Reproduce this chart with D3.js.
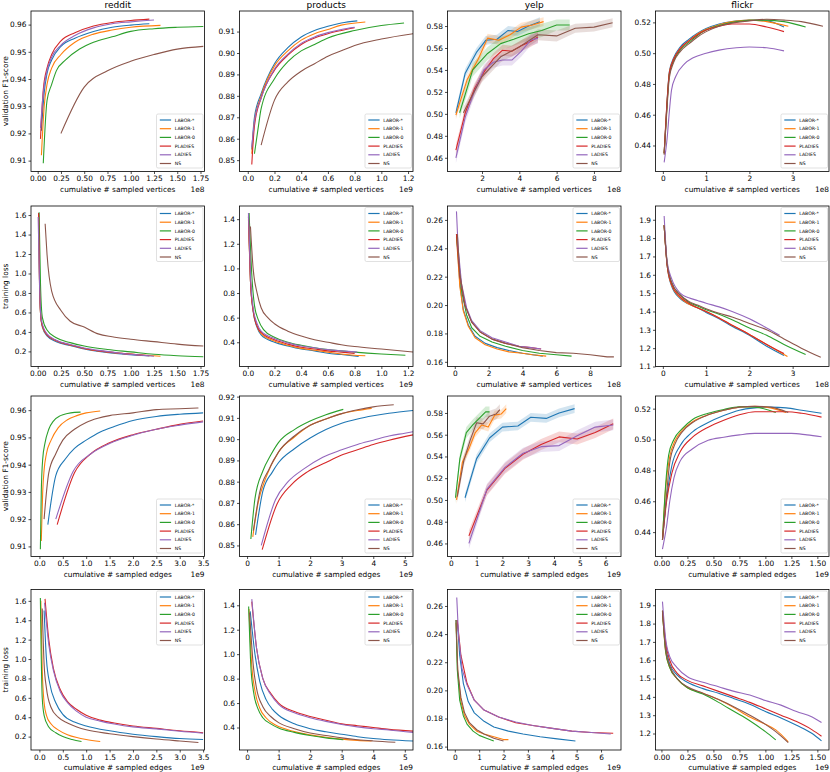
<!DOCTYPE html>
<html>
<head>
<meta charset="utf-8">
<script src="https://cdn.jsdelivr.net/npm/d3@7"></script>
<style>
body { margin: 0; background: #fff; }
text { font-family: "DejaVu Sans", sans-serif; fill: #000; }
</style>
</head>
<body>
<svg id="chart" width="830" height="772"></svg>
<script>
// series order in every panel
const methods = ["LABOR-*", "LABOR-1", "LABOR-0", "PLADIES", "LADIES", "NS"];
const colors = ["#1f77b4", "#ff7f0e", "#2ca02c", "#d62728", "#9467bd", "#8c564b"];
const datasets = ["reddit", "products", "yelp", "flickr"];
const rowYLabels = ["validation F1-score", "training loss", "validation F1-score", "training loss"];
const rowXLabels = ["cumulative # sampled vertices", "cumulative # sampled vertices",
                    "cumulative # sampled edges", "cumulative # sampled edges"];

// axis setup per panel (row-major): domain, tick step, decimals, exponent label
const xDomains = [
  [-0.072, 1.793], [-0.062, 1.237], [0.15, 9.45], [-0.17, 3.84],
  [-0.072, 1.793], [-0.062, 1.237], [-0.43, 9.82], [-0.17, 3.84],
  [-0.18, 3.53], [-0.24, 5.26], [-0.13, 6.6], [-0.057, 1.612],
  [-0.18, 3.53], [-0.24, 5.26], [-0.3, 6.82], [-0.057, 1.612]
];
const yDomains = [
  [0.906, 0.965], [0.8447, 0.9196], [0.4475, 0.5937], [0.4231, 0.5274],
  [0.045, 1.693], [0.203, 1.507], [0.1567, 0.2698], [1.10, 1.975],
  [0.9063, 0.9652], [0.8448, 0.9203], [0.448, 0.5956], [0.4242, 0.5282],
  [0.062, 1.717], [0.216, 1.529], [0.1576, 0.2717], [1.11, 1.986]
];
const xTickSteps = [0.25, 0.2, 2, 1, 0.25, 0.2, 2, 1, 0.5, 1, 1, 0.25, 0.5, 1, 1, 0.25];
const xTickDigits = [2, 1, 0, 0, 2, 1, 0, 0, 1, 0, 0, 2, 1, 0, 0, 2];
const yTickSteps = [0.01, 0.01, 0.02, 0.02, 0.2, 0.2, 0.02, 0.1, 0.01, 0.01, 0.02, 0.02, 0.2, 0.2, 0.02, 0.1];
const yTickDigits = [2, 2, 2, 2, 1, 1, 2, 1, 2, 2, 2, 2, 1, 1, 2, 1];
const xExponents = ["1e8", "1e9", "1e8", "1e8", "1e8", "1e9", "1e8", "1e8",
                    "1e9", "1e9", "1e9", "1e9", "1e9", "1e9", "1e9", "1e9"];

// ---- row 1: validation F1 vs sampled vertices ----
const redditF1Vert = [
  [[0.04,0.921],[0.07,0.935],[0.1,0.942],[0.15,0.947],[0.25,0.952],[0.4,0.955],[0.6,0.9575],[0.8,0.959],[1.0,0.9598],[1.2,0.9603]],
  [[0.04,0.912],[0.07,0.930],[0.1,0.938],[0.15,0.944],[0.25,0.949],[0.4,0.9535],[0.6,0.9565],[0.8,0.958],[1.0,0.959],[1.32,0.9597]],
  [[0.06,0.909],[0.1,0.932],[0.15,0.938],[0.2,0.943],[0.3,0.947],[0.45,0.951],[0.6,0.9535],[0.8,0.9555],[1.0,0.9575],[1.25,0.9585],[1.5,0.959],[1.78,0.9593]],
  [[0.03,0.918],[0.06,0.936],[0.1,0.944],[0.15,0.949],[0.25,0.954],[0.4,0.957],[0.6,0.9595],[0.8,0.9608],[1.0,0.9615],[1.2,0.962]],
  [[0.03,0.922],[0.06,0.935],[0.1,0.943],[0.15,0.948],[0.25,0.9525],[0.4,0.956],[0.6,0.9588],[0.8,0.9603],[1.0,0.961],[1.25,0.9617]],
  [[0.25,0.920],[0.5,0.937],[0.75,0.943],[1.0,0.9465],[1.25,0.949],[1.5,0.951],[1.78,0.952]]
];
const productsF1Vert = [
  [[0.03,0.855],[0.05,0.870],[0.1,0.881],[0.2,0.895],[0.3,0.9025],[0.4,0.9075],[0.5,0.9105],[0.6,0.9125],[0.7,0.914],[0.82,0.915]],
  [[0.03,0.853],[0.05,0.868],[0.1,0.880],[0.2,0.894],[0.3,0.901],[0.4,0.906],[0.5,0.909],[0.6,0.911],[0.7,0.913],[0.88,0.9145]],
  [[0.05,0.853],[0.08,0.866],[0.1,0.874],[0.2,0.888],[0.3,0.896],[0.4,0.901],[0.5,0.904],[0.6,0.907],[0.8,0.9105],[1.0,0.9128],[1.17,0.914]],
  [[0.03,0.848],[0.05,0.866],[0.1,0.879],[0.2,0.892],[0.3,0.899],[0.4,0.904],[0.5,0.907],[0.6,0.909],[0.7,0.9105],[0.8,0.9118]],
  [[0.03,0.856],[0.05,0.868],[0.1,0.879],[0.2,0.8925],[0.3,0.8995],[0.4,0.9045],[0.5,0.9075],[0.6,0.9095],[0.7,0.911],[0.8,0.912]],
  [[0.1,0.857],[0.2,0.878],[0.3,0.8865],[0.4,0.8915],[0.5,0.895],[0.6,0.8985],[0.7,0.901],[0.8,0.9035],[1.0,0.9065],[1.24,0.909]]
];
const yelpF1Vert = [
  [[0.6,0.501,0.004],[1.1,0.537,0.004],[1.7,0.556,0.004],[2.2,0.567,0.004],[2.8,0.568,0.004],[3.4,0.576,0.004],[3.9,0.575,0.004],[4.5,0.580,0.004],[5.1,0.584,0.004]],
  [[0.6,0.499,0.004],[1.2,0.531,0.004],[1.8,0.550,0.004],[2.3,0.569,0.004],[2.9,0.567,0.004],[3.5,0.572,0.004],[4.1,0.579,0.004],[4.7,0.581,0.004],[5.3,0.584,0.004]],
  [[0.8,0.501,0.005],[1.5,0.540,0.006],[2.3,0.555,0.006],[3.0,0.564,0.006],[3.7,0.568,0.006],[4.5,0.573,0.006],[5.2,0.576,0.006],[6.0,0.581,0.005],[6.7,0.581,0.005]],
  [[0.6,0.467,0.005],[1.1,0.501,0.005],[1.6,0.523,0.005],[2.1,0.538,0.005],[2.6,0.550,0.005],[3.1,0.558,0.005],[3.6,0.557,0.005],[4.1,0.562,0.005],[4.6,0.566,0.005],[5.0,0.570,0.005]],
  [[0.6,0.460,0.005],[1.1,0.497,0.005],[1.6,0.521,0.005],[2.1,0.540,0.005],[2.6,0.547,0.005],[3.1,0.549,0.005],[3.6,0.549,0.005],[4.1,0.557,0.005],[4.6,0.567,0.005],[5.0,0.569,0.005]],
  [[1.0,0.501,0.005],[2.0,0.534,0.005],[3.0,0.552,0.005],[4.0,0.561,0.005],[5.0,0.572,0.005],[6.0,0.571,0.005],[7.0,0.578,0.004],[8.0,0.579,0.004],[9.0,0.583,0.004]]
];
const flickrF1Vert = [
  [[0.03,0.435],[0.1,0.470],[0.15,0.488],[0.25,0.497],[0.4,0.504],[0.6,0.509],[0.8,0.513],[1.0,0.516],[1.3,0.519],[1.6,0.5205],[2.0,0.5215],[2.4,0.521],[2.8,0.517]],
  [[0.03,0.435],[0.1,0.469],[0.15,0.487],[0.25,0.496],[0.4,0.503],[0.6,0.508],[0.8,0.5125],[1.0,0.5155],[1.3,0.5185],[1.6,0.5205],[2.0,0.5215],[2.4,0.5205],[2.9,0.5175]],
  [[0.03,0.435],[0.1,0.468],[0.15,0.486],[0.25,0.495],[0.4,0.502],[0.6,0.507],[0.8,0.5115],[1.0,0.515],[1.3,0.518],[1.6,0.52],[2.0,0.5213],[2.4,0.5215],[2.8,0.5205],[3.3,0.517]],
  [[0.03,0.435],[0.1,0.470],[0.15,0.487],[0.25,0.496],[0.4,0.503],[0.6,0.508],[0.8,0.512],[1.0,0.515],[1.3,0.5175],[1.6,0.519],[2.0,0.519],[2.4,0.517],[2.8,0.514]],
  [[0.03,0.429],[0.1,0.445],[0.15,0.462],[0.2,0.476],[0.3,0.485],[0.5,0.493],[0.7,0.497],[1.0,0.500],[1.3,0.502],[1.7,0.5035],[2.0,0.504],[2.4,0.5035],[2.8,0.5015]],
  [[0.03,0.434],[0.1,0.466],[0.15,0.484],[0.25,0.494],[0.4,0.501],[0.6,0.506],[0.8,0.5105],[1.0,0.514],[1.3,0.5175],[1.6,0.5195],[2.0,0.521],[2.4,0.522],[2.8,0.5215],[3.2,0.5205],[3.7,0.5175]]
];

// ---- row 2: training loss vs sampled vertices ----
const redditLossVert = [
  [[0.01,1.62],[0.02,0.9],[0.03,0.6],[0.05,0.45],[0.1,0.36],[0.2,0.30],[0.35,0.26],[0.5,0.225],[0.7,0.195],[0.9,0.175],[1.2,0.155]],
  [[0.01,1.6],[0.02,0.9],[0.03,0.6],[0.05,0.46],[0.1,0.37],[0.2,0.31],[0.35,0.265],[0.5,0.23],[0.7,0.2],[0.9,0.18],[1.1,0.165],[1.32,0.15]],
  [[0.015,1.63],[0.03,0.9],[0.05,0.55],[0.1,0.42],[0.2,0.34],[0.35,0.29],[0.5,0.255],[0.75,0.22],[1.0,0.195],[1.25,0.17],[1.5,0.155],[1.78,0.145]],
  [[0.01,1.62],[0.02,0.85],[0.04,0.5],[0.1,0.37],[0.2,0.31],[0.35,0.265],[0.5,0.23],[0.7,0.2],[0.9,0.18],[1.2,0.155]],
  [[0.005,1.58],[0.02,0.88],[0.04,0.52],[0.1,0.38],[0.2,0.315],[0.35,0.27],[0.5,0.235],[0.7,0.205],[0.9,0.18],[1.25,0.15]],
  [[0.08,1.51],[0.1,1.2],[0.15,0.82],[0.25,0.62],[0.35,0.51],[0.5,0.45],[0.65,0.38],[0.8,0.35],[1.0,0.325],[1.25,0.30],[1.5,0.275],[1.78,0.255]]
];
const productsLossVert = [
  [[0.005,1.42],[0.02,0.9],[0.04,0.65],[0.07,0.52],[0.1,0.46],[0.2,0.40],[0.3,0.37],[0.4,0.345],[0.5,0.33],[0.6,0.31],[0.7,0.30],[0.83,0.285]],
  [[0.005,1.4],[0.02,0.9],[0.04,0.66],[0.07,0.53],[0.1,0.47],[0.2,0.41],[0.3,0.375],[0.4,0.35],[0.5,0.335],[0.6,0.32],[0.7,0.305],[0.88,0.29]],
  [[0.01,1.45],[0.03,0.95],[0.05,0.7],[0.08,0.58],[0.12,0.5],[0.2,0.44],[0.3,0.4],[0.4,0.375],[0.5,0.355],[0.6,0.34],[0.8,0.32],[1.0,0.305],[1.18,0.295]],
  [[0.005,1.43],[0.02,0.9],[0.04,0.66],[0.07,0.53],[0.1,0.48],[0.2,0.42],[0.3,0.385],[0.4,0.36],[0.5,0.345],[0.6,0.33],[0.7,0.32],[0.8,0.31]],
  [[0.005,1.45],[0.02,0.95],[0.04,0.68],[0.07,0.55],[0.1,0.49],[0.2,0.43],[0.3,0.395],[0.4,0.37],[0.5,0.355],[0.6,0.34],[0.7,0.33],[0.82,0.32]],
  [[0.02,1.34],[0.04,1.0],[0.07,0.8],[0.1,0.68],[0.15,0.6],[0.2,0.55],[0.3,0.49],[0.4,0.45],[0.5,0.42],[0.6,0.4],[0.7,0.38],[0.8,0.365],[1.0,0.345],[1.24,0.32]]
];
const yelpLossVert = [
  [[0.1,0.25],[0.3,0.215],[0.5,0.197],[0.8,0.186],[1.2,0.178],[1.8,0.173],[2.5,0.17],[3.2,0.168],[4.0,0.166],[4.6,0.165],[5.2,0.164]],
  [[0.1,0.248],[0.3,0.213],[0.5,0.196],[0.8,0.185],[1.2,0.177],[1.8,0.172],[2.5,0.169],[3.2,0.167],[4.0,0.166],[4.6,0.165],[5.4,0.164]],
  [[0.1,0.25],[0.4,0.21],[0.7,0.193],[1.0,0.184],[1.5,0.178],[2.2,0.174],[3.0,0.171],[4.0,0.168],[5.0,0.166],[6.0,0.165],[6.9,0.164]],
  [[0.1,0.25],[0.3,0.22],[0.6,0.2],[1.0,0.188],[1.5,0.181],[2.2,0.176],[3.0,0.173],[3.8,0.171],[4.5,0.17],[5.1,0.169]],
  [[0.1,0.266],[0.2,0.24],[0.4,0.215],[0.7,0.198],[1.0,0.189],[1.5,0.182],[2.2,0.177],[3.0,0.174],[3.8,0.171],[4.5,0.17],[5.1,0.169]],
  [[0.15,0.25],[0.3,0.222],[0.6,0.2],[1.0,0.188],[1.5,0.181],[2.2,0.176],[3.0,0.173],[4.0,0.17],[5.0,0.168],[6.0,0.1665],[7.0,0.166],[8.0,0.165],[9.0,0.1635],[9.4,0.1635]]
];
const flickrLossVert = [
  [[0.03,1.87],[0.1,1.65],[0.2,1.54],[0.4,1.47],[0.6,1.44],[0.8,1.42],[1.0,1.395],[1.3,1.36],[1.6,1.32],[2.0,1.27],[2.4,1.21],[2.8,1.16]],
  [[0.03,1.87],[0.1,1.65],[0.2,1.545],[0.4,1.475],[0.6,1.44],[0.8,1.42],[1.0,1.40],[1.3,1.365],[1.6,1.325],[2.0,1.275],[2.4,1.22],[2.88,1.155]],
  [[0.03,1.87],[0.1,1.66],[0.2,1.56],[0.4,1.49],[0.6,1.45],[0.8,1.43],[1.0,1.41],[1.3,1.385],[1.6,1.355],[2.0,1.31],[2.4,1.27],[2.8,1.22],[3.3,1.165]],
  [[0.03,1.87],[0.1,1.65],[0.2,1.55],[0.4,1.48],[0.6,1.445],[0.8,1.42],[1.0,1.40],[1.3,1.365],[1.6,1.325],[2.0,1.275],[2.4,1.22],[2.8,1.17]],
  [[0.03,1.92],[0.1,1.67],[0.2,1.58],[0.4,1.5],[0.6,1.475],[0.8,1.46],[1.0,1.445],[1.3,1.425],[1.6,1.40],[2.0,1.36],[2.4,1.31],[2.7,1.27]],
  [[0.03,1.87],[0.1,1.66],[0.2,1.56],[0.4,1.49],[0.6,1.455],[0.8,1.435],[1.0,1.415],[1.3,1.39],[1.6,1.37],[2.0,1.335],[2.4,1.30],[2.8,1.25],[3.2,1.2],[3.65,1.15]]
];

// ---- row 3: validation F1 vs sampled edges ----
const redditF1Edge = [
  [[0.18,0.918],[0.35,0.936],[0.55,0.942],[0.75,0.946],[1.0,0.949],[1.3,0.952],[1.6,0.954],[2.0,0.9562],[2.5,0.9577],[3.0,0.9585],[3.5,0.959]],
  [[0.04,0.912],[0.07,0.930],[0.1,0.938],[0.15,0.944],[0.25,0.949],[0.4,0.9535],[0.6,0.9565],[0.8,0.958],[1.0,0.959],[1.3,0.9597]],
  [[0.02,0.909],[0.04,0.93],[0.07,0.942],[0.12,0.948],[0.2,0.953],[0.3,0.956],[0.45,0.958],[0.6,0.9588],[0.75,0.9592],[0.88,0.9593]],
  [[0.38,0.918],[0.75,0.937],[1.1,0.944],[1.5,0.948],[2.0,0.951],[2.5,0.953],[3.0,0.9548],[3.5,0.956]],
  [[0.35,0.920],[0.72,0.9375],[1.1,0.944],[1.5,0.9478],[2.0,0.9508],[2.5,0.953],[3.0,0.9545],[3.5,0.9557]],
  [[0.1,0.920],[0.2,0.937],[0.35,0.944],[0.5,0.949],[0.75,0.953],[1.0,0.9555],[1.25,0.957],[1.5,0.958],[2.0,0.959],[2.5,0.9602],[3.0,0.9605],[3.4,0.9608]]
];
const productsF1Edge = [
  [[0.27,0.855],[0.5,0.8755],[0.8,0.8845],[1.0,0.889],[1.5,0.8955],[2.0,0.9005],[2.5,0.9045],[3.0,0.9075],[3.5,0.9095],[4.0,0.911],[4.5,0.9122],[5.26,0.9135]],
  [[0.18,0.854],[0.35,0.87],[0.6,0.882],[1.0,0.894],[1.5,0.901],[2.0,0.9065],[2.5,0.9095],[3.0,0.912],[3.5,0.9135],[3.95,0.9145]],
  [[0.12,0.853],[0.25,0.872],[0.5,0.885],[0.75,0.8925],[1.0,0.8985],[1.5,0.9045],[2.0,0.9085],[2.5,0.9115],[3.05,0.914]],
  [[0.48,0.848],[0.95,0.8695],[1.4,0.8785],[1.9,0.8845],[2.5,0.889],[3.0,0.8925],[3.5,0.895],[4.0,0.8975],[4.5,0.8995],[5.26,0.902]],
  [[0.45,0.850],[0.9,0.8715],[1.3,0.880],[1.8,0.886],[2.4,0.8915],[3.0,0.895],[3.5,0.8975],[4.0,0.8995],[4.5,0.9015],[5.0,0.9028],[5.26,0.9035]],
  [[0.2,0.857],[0.4,0.875],[0.7,0.886],[1.0,0.894],[1.5,0.9015],[2.0,0.9065],[2.5,0.9095],[3.0,0.912],[3.5,0.9138],[4.0,0.9152],[4.65,0.9162]]
];
const yelpF1Edge = [
  [[0.55,0.502,0.004],[1.0,0.538,0.004],[1.5,0.557,0.004],[2.0,0.567,0.004],[2.6,0.568,0.004],[3.1,0.576,0.004],[3.7,0.575,0.004],[4.2,0.580,0.004],[4.8,0.584,0.004]],
  [[0.22,0.500,0.004],[0.45,0.535,0.004],[0.7,0.547,0.004],[0.95,0.562,0.004],[1.2,0.569,0.004],[1.45,0.567,0.004],[1.7,0.578,0.004],[1.95,0.579,0.004],[2.15,0.584,0.004]],
  [[0.18,0.502,0.005],[0.35,0.538,0.005],[0.6,0.562,0.005],[0.85,0.569,0.005],[1.1,0.575,0.005],[1.35,0.581,0.005],[1.5,0.581,0.005]],
  [[0.7,0.467,0.005],[1.4,0.509,0.005],[2.1,0.529,0.005],[2.8,0.542,0.005],[3.5,0.551,0.005],[4.2,0.558,0.005],[4.9,0.556,0.005],[5.6,0.562,0.005],[6.3,0.570,0.005]],
  [[0.7,0.460,0.005],[1.4,0.510,0.005],[2.1,0.530,0.005],[2.8,0.543,0.005],[3.5,0.549,0.005],[4.2,0.550,0.005],[4.9,0.559,0.005],[5.6,0.567,0.005],[6.3,0.569,0.005]],
  [[0.25,0.503,0.005],[0.5,0.536,0.005],[0.75,0.555,0.005],[1.0,0.571,0.005],[1.25,0.570,0.005],[1.5,0.577,0.005],[1.75,0.579,0.005],[1.9,0.583,0.005]]
];
const flickrF1Edge = [
  [[0.01,0.435],[0.05,0.462],[0.1,0.483],[0.18,0.496],[0.3,0.505],[0.45,0.511],[0.6,0.5155],[0.75,0.519],[0.9,0.5205],[1.05,0.521],[1.2,0.5205],[1.35,0.519],[1.54,0.517]],
  [[0.01,0.435],[0.04,0.468],[0.08,0.489],[0.13,0.499],[0.2,0.506],[0.3,0.5115],[0.45,0.516],[0.6,0.519],[0.75,0.521],[0.9,0.5215],[1.05,0.5205],[1.2,0.5175]],
  [[0.01,0.435],[0.04,0.47],[0.07,0.49],[0.12,0.5],[0.2,0.507],[0.3,0.513],[0.45,0.517],[0.6,0.5195],[0.75,0.5212],[0.9,0.521],[1.1,0.5175]],
  [[0.01,0.435],[0.05,0.46],[0.1,0.478],[0.18,0.492],[0.3,0.5015],[0.45,0.508],[0.6,0.5125],[0.75,0.516],[0.9,0.518],[1.05,0.518],[1.2,0.518],[1.35,0.517],[1.54,0.5145]],
  [[0.01,0.429],[0.05,0.444],[0.08,0.46],[0.12,0.475],[0.18,0.486],[0.3,0.494],[0.45,0.4995],[0.6,0.5015],[0.75,0.503],[0.9,0.504],[1.05,0.504],[1.25,0.504],[1.4,0.503],[1.54,0.5018]],
  [[0.01,0.435],[0.05,0.465],[0.08,0.485],[0.13,0.497],[0.2,0.505],[0.3,0.511],[0.45,0.516],[0.6,0.519],[0.75,0.521],[0.9,0.5215],[1.05,0.521],[1.22,0.5175]]
];

// ---- row 4: training loss vs sampled edges ----
const redditLossEdge = [
  [[0.1,1.5],[0.15,1.0],[0.22,0.75],[0.35,0.55],[0.5,0.43],[0.75,0.35],[1.0,0.31],[1.5,0.26],[2.0,0.225],[2.5,0.2],[3.0,0.18],[3.5,0.17]],
  [[0.03,1.6],[0.06,0.9],[0.1,0.55],[0.15,0.42],[0.25,0.33],[0.4,0.27],[0.6,0.22],[0.8,0.19],[1.0,0.17],[1.3,0.15]],
  [[0.02,1.63],[0.04,1.0],[0.06,0.6],[0.1,0.42],[0.2,0.3],[0.35,0.24],[0.5,0.2],[0.7,0.17],[0.9,0.15]],
  [[0.12,1.62],[0.2,1.2],[0.3,0.9],[0.45,0.68],[0.6,0.56],[0.8,0.48],[1.0,0.42],[1.3,0.37],[1.6,0.34],[2.0,0.31],[2.5,0.285],[3.0,0.26],[3.5,0.24]],
  [[0.11,1.58],[0.2,1.15],[0.3,0.88],[0.45,0.66],[0.6,0.55],[0.8,0.46],[1.0,0.4],[1.3,0.36],[1.6,0.33],[2.0,0.3],[2.5,0.28],[3.0,0.255],[3.5,0.235]],
  [[0.06,1.52],[0.1,0.95],[0.15,0.7],[0.25,0.5],[0.4,0.4],[0.6,0.34],[0.8,0.3],[1.0,0.27],[1.5,0.23],[2.0,0.2],[2.5,0.175],[3.0,0.155],[3.4,0.14]]
];
const productsLossEdge = [
  [[0.1,1.35],[0.25,1.0],[0.4,0.78],[0.6,0.63],[0.8,0.55],[1.0,0.5],[1.5,0.43],[2.0,0.39],[2.5,0.365],[3.0,0.345],[3.5,0.325],[4.0,0.31],[4.5,0.3],[5.26,0.29]],
  [[0.06,1.37],[0.15,0.9],[0.25,0.7],[0.4,0.56],[0.6,0.48],[0.9,0.42],[1.2,0.39],[1.6,0.36],[2.0,0.34],[2.5,0.32],[3.0,0.305],[3.5,0.295],[3.95,0.29]],
  [[0.05,1.39],[0.12,0.9],[0.2,0.7],[0.35,0.55],[0.5,0.48],[0.75,0.43],[1.0,0.395],[1.5,0.36],[2.0,0.335],[2.5,0.315],[3.05,0.3]],
  [[0.15,1.43],[0.3,1.05],[0.5,0.8],[0.75,0.68],[1.0,0.6],[1.5,0.53],[2.0,0.49],[2.5,0.46],[3.0,0.43],[3.5,0.415],[4.0,0.4],[4.5,0.385],[5.26,0.37]],
  [[0.15,1.45],[0.3,1.05],[0.5,0.8],[0.75,0.67],[1.0,0.59],[1.5,0.52],[2.0,0.48],[2.5,0.45],[3.0,0.425],[3.5,0.405],[4.0,0.39],[4.5,0.38],[5.26,0.36]],
  [[0.08,1.34],[0.2,0.9],[0.3,0.72],[0.5,0.57],[0.75,0.49],[1.0,0.44],[1.5,0.39],[2.0,0.355],[2.5,0.335],[3.0,0.315],[3.5,0.3],[4.0,0.29],[4.7,0.28]]
];
const yelpLossEdge = [
  [[0.1,0.25],[0.2,0.225],[0.35,0.205],[0.55,0.192],[0.8,0.184],[1.2,0.178],[1.6,0.174],[2.2,0.171],[2.8,0.169],[3.5,0.167],[4.2,0.1655],[4.95,0.164]],
  [[0.05,0.248],[0.12,0.213],[0.25,0.192],[0.4,0.182],[0.6,0.176],[0.9,0.171],[1.2,0.169],[1.6,0.167],[2.0,0.165],[2.2,0.165]],
  [[0.05,0.25],[0.1,0.215],[0.2,0.193],[0.35,0.182],[0.5,0.176],[0.75,0.171],[1.0,0.168],[1.3,0.166],[1.6,0.164]],
  [[0.1,0.25],[0.25,0.225],[0.5,0.205],[0.8,0.193],[1.2,0.186],[1.8,0.181],[2.5,0.177],[3.2,0.175],[4.0,0.173],[4.8,0.171],[5.6,0.17],[6.5,0.1695]],
  [[0.08,0.266],[0.15,0.24],[0.3,0.215],[0.5,0.204],[0.8,0.193],[1.2,0.186],[1.8,0.181],[2.5,0.1775],[3.2,0.175],[4.0,0.173],[4.8,0.171],[5.6,0.17],[6.4,0.169]],
  [[0.05,0.25],[0.12,0.215],[0.25,0.195],[0.4,0.184],[0.6,0.177],[0.9,0.172],[1.2,0.169],[1.6,0.166],[2.0,0.164]]
];
const flickrLossEdge = [
  [[0.01,1.87],[0.04,1.68],[0.08,1.58],[0.15,1.52],[0.25,1.48],[0.4,1.445],[0.55,1.42],[0.7,1.39],[0.85,1.36],[1.0,1.32],[1.15,1.285],[1.3,1.245],[1.45,1.2],[1.54,1.16]],
  [[0.01,1.87],[0.04,1.65],[0.08,1.56],[0.15,1.5],[0.25,1.45],[0.4,1.42],[0.55,1.385],[0.7,1.34],[0.85,1.29],[1.0,1.25],[1.1,1.22],[1.22,1.155]],
  [[0.01,1.87],[0.04,1.65],[0.08,1.56],[0.15,1.5],[0.25,1.45],[0.4,1.415],[0.55,1.37],[0.7,1.32],[0.85,1.27],[1.0,1.21],[1.1,1.165]],
  [[0.01,1.87],[0.04,1.7],[0.08,1.6],[0.15,1.53],[0.25,1.49],[0.4,1.46],[0.55,1.43],[0.7,1.4],[0.85,1.37],[1.0,1.335],[1.15,1.3],[1.3,1.265],[1.45,1.22],[1.54,1.185]],
  [[0.01,1.92],[0.04,1.72],[0.08,1.62],[0.15,1.56],[0.25,1.51],[0.4,1.48],[0.55,1.455],[0.7,1.43],[0.85,1.41],[1.0,1.38],[1.15,1.355],[1.3,1.32],[1.45,1.29],[1.54,1.26]],
  [[0.01,1.87],[0.04,1.66],[0.08,1.57],[0.15,1.5],[0.25,1.455],[0.4,1.42],[0.55,1.385],[0.7,1.345],[0.85,1.3],[1.0,1.25],[1.1,1.21],[1.22,1.15]]
];

const panels = [
  redditF1Vert, productsF1Vert, yelpF1Vert, flickrF1Vert,
  redditLossVert, productsLossVert, yelpLossVert, flickrLossVert,
  redditF1Edge, productsF1Edge, yelpF1Edge, flickrF1Edge,
  redditLossEdge, productsLossEdge, yelpLossEdge, flickrLossEdge
];

// layout
const colLeft = [31, 239.5, 447.5, 655.5];
const rowTop = [11, 206, 396, 589.5];
const pw = 173.5, ph = 160.5;

var svg = d3.select("#chart");

const tickValues = function (domain, step) {
    var lo = Math.ceil(domain[0] / step - 1e-6), hi = Math.floor(domain[1] / step + 1e-6);
    return d3.range(lo, hi + 1).map(i => +(i * step).toFixed(6));
};

panels.forEach((series, idx) => {
    var row = Math.floor(idx / 4), col = idx % 4;
    var g = svg.append("g")
        .attr("transform", "translate(" + colLeft[col] + "," + rowTop[row] + ")");

    var x = d3.scaleLinear().domain(xDomains[idx]).range([0, pw]);
    var y = d3.scaleLinear().domain(yDomains[idx]).range([ph, 0]);

    g.append("clipPath").attr("id", "clip" + idx)
        .append("rect").attr("width", pw).attr("height", ph);
    var plot = g.append("g").attr("clip-path", "url(#clip" + idx + ")");

    // bumpy yelp curves are piecewise, the rest are dense traces
    var curve = col === 2 ? d3.curveLinear : d3.curveMonotoneX;
    var line = d3.line().x(d => x(d[0])).y(d => y(d[1])).curve(curve);
    var area = d3.area().x(d => x(d[0]))
        .y0(d => y(d[1] - d[2])).y1(d => y(d[1] + d[2])).curve(curve);

    series.forEach((pts, i) => {
        if (pts[0].length > 2) {
            plot.append("path").attr("d", area(pts))
                .attr("fill", colors[i]).attr("fill-opacity", 0.2);
        }
    });
    series.forEach((pts, i) => {
        plot.append("path").attr("d", line(pts))
            .attr("fill", "none")
            .attr("stroke", colors[i])
            .attr("stroke-width", 1.1)
            .attr("stroke-linejoin", "round");
    });

    // axes
    var xAxis = d3.axisBottom(x)
        .tickValues(tickValues(xDomains[idx], xTickSteps[idx]))
        .tickFormat(d3.format("." + xTickDigits[idx] + "f"))
        .tickSize(2.5).tickPadding(2);
    var yAxis = d3.axisLeft(y)
        .tickValues(tickValues(yDomains[idx], yTickSteps[idx]))
        .tickFormat(d3.format("." + yTickDigits[idx] + "f"))
        .tickSize(2.5).tickPadding(2);
    var gx = g.append("g").attr("transform", "translate(0," + ph + ")").call(xAxis);
    var gy = g.append("g").call(yAxis);
    [gx, gy].forEach(a => {
        a.select(".domain").remove();
        a.selectAll("line").attr("stroke", "#000").attr("stroke-width", 0.7);
        a.selectAll("text").style("font-size", "7.4px").attr("fill", "#000");
    });

    g.append("rect")
        .attr("width", pw).attr("height", ph)
        .attr("fill", "none").attr("stroke", "#000").attr("stroke-width", 0.8);

    // labels
    g.append("text").attr("x", pw / 2).attr("y", ph + 20)
        .attr("text-anchor", "middle").style("font-size", "7.4px")
        .text(rowXLabels[row]);
    g.append("text").attr("x", pw).attr("y", ph + 20)
        .attr("text-anchor", "end").style("font-size", "7.4px")
        .text(xExponents[idx]);
    if (row === 0) {
        g.append("text").attr("x", pw / 2).attr("y", -3.5)
            .attr("text-anchor", "middle").style("font-size", "9px")
            .text(datasets[col]);
    }
    if (col === 0) {
        g.append("text")
            .attr("transform", "translate(" + (-23.5) + "," + (ph / 2) + ") rotate(-90)")
            .attr("text-anchor", "middle").style("font-size", "7.4px")
            .text(rowYLabels[row]);
    }

    // legend
    var lw = 46.5, lh = 54;
    var lx = pw - lw - 1.5;
    var ly = (row % 2 === 0) ? ph - lh - 3.5 : 1.5;
    var leg = g.append("g").attr("transform", "translate(" + lx + "," + ly + ")");
    leg.append("rect").attr("width", lw).attr("height", lh).attr("rx", 1.5)
        .attr("fill", "#fff").attr("fill-opacity", 0.8)
        .attr("stroke", "#ccc").attr("stroke-width", 0.6);
    methods.forEach((m, i) => {
        var yy = 6 + i * 8.7;
        leg.append("line").attr("x1", 3.3).attr("x2", 14.6).attr("y1", yy).attr("y2", yy)
            .attr("stroke", colors[i]).attr("stroke-width", 1.2);
        leg.append("text").attr("x", 18.3).attr("y", yy + 1.6)
            .style("font-size", "4.6px").text(m);
    });
});
</script>
</body>
</html>
